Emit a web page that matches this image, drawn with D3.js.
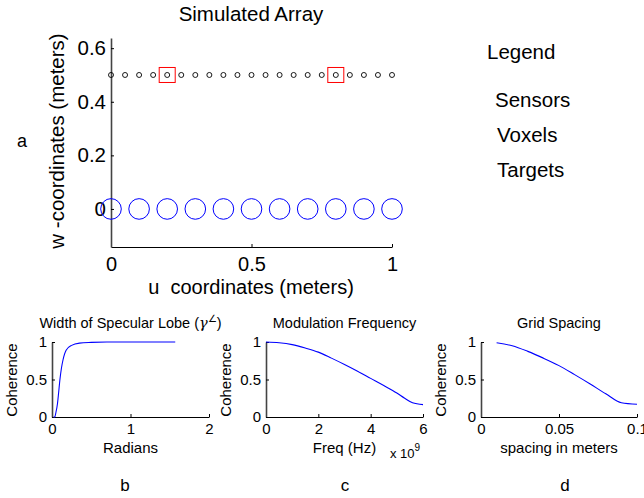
<!DOCTYPE html>
<html>
<head>
<meta charset="utf-8">
<script src="https://cdn.jsdelivr.net/npm/d3@7"></script>
<style>
  html, body { margin: 0; padding: 0; background: #fff; }
  svg { display: block; font-family: Arial, "Liberation Sans", sans-serif; }
  text { white-space: pre; }
</style>
</head>
<body>
<svg width="644" height="498"></svg>
<script>
// --- panel a: simulated array ---
var sensorU = [0, 0.05, 0.1, 0.15, 0.2, 0.25, 0.3, 0.35, 0.4, 0.45, 0.5, 0.55, 0.6, 0.65, 0.7, 0.75, 0.8, 0.85, 0.9, 0.95, 1];
var sensorW = 0.5;
var voxelU = [0, 0.1, 0.2, 0.3, 0.4, 0.5, 0.6, 0.7, 0.8, 0.9, 1];
var voxelW = 0;
var targetU = [0.2, 0.8];
var targetW = [0.5, 0.5];
var aTicksX = [0, 0.5, 1];
var aTicksY = [0, 0.2, 0.4, 0.6];
var legendItems = ['Sensors', 'Voxels', 'Targets'];

// --- panel b: width of specular lobe ---
var lobeRad = [0.02, 0.035, 0.05, 0.07, 0.085, 0.1, 0.12, 0.14, 0.18, 0.25, 0.35, 0.5, 0.7, 1.0, 1.3, 1.57];
var lobeCoh = [0, 0, 0.06, 0.18, 0.33, 0.49, 0.65, 0.76, 0.89, 0.955, 0.985, 0.995, 1, 1, 1, 1];

// --- panel c: modulation frequency (x 10^9 Hz) ---
var freq = [0, 0.5, 1, 1.5, 2, 2.5, 3, 3.5, 4, 4.5, 5, 5.3, 5.6, 6];
var freqCoh = [1, 0.99, 0.965, 0.92, 0.865, 0.785, 0.70, 0.61, 0.515, 0.42, 0.32, 0.25, 0.19, 0.165];

// --- panel d: grid spacing ---
var spacing = [0.01, 0.02, 0.03, 0.04, 0.05, 0.06, 0.07, 0.08, 0.09, 0.1];
var spacingCoh = [0.99, 0.95, 0.875, 0.785, 0.685, 0.565, 0.44, 0.31, 0.19, 0.17];

var cohTicks = [0, 0.5, 1];

var svg = d3.select('svg');

function styleAxis(g, leftSide) {
    g.select('.domain').attr('stroke', leftSide ? '#444' : '#000').attr('stroke-width', leftSide ? 1.6 : 1);
    g.selectAll('.tick line').attr('stroke', '#000');
    g.selectAll('.tick text').attr('fill', '#000');
}

// ================= panel a =================
var ax = d3.scaleLinear().domain([0, 1]).range([111, 392]);
var ay = d3.scaleLinear().domain([-0.142, 0.638]).range([247, 38]);

var gxA = svg.append('g')
    .attr('transform', 'translate(0,247)')
    .call(d3.axisBottom(ax).tickValues(aTicksX).tickFormat(d3.format('')).tickSize(-3).tickSizeOuter(0).tickPadding(10))
    .attr('font-size', 20).attr('font-family', null);
styleAxis(gxA, false);

var gyA = svg.append('g')
    .attr('transform', 'translate(111,0)')
    .call(d3.axisLeft(ay).tickValues(aTicksY).tickFormat(d3.format('')).tickSize(-3).tickSizeOuter(0).tickPadding(5))
    .attr('font-size', 20.5).attr('font-family', null);
styleAxis(gyA, true);

svg.selectAll('circle.voxel')
    .data(voxelU)
    .enter().append('circle')
    .attr('class', 'voxel')
    .attr('cx', function (d) { return ax(d); })
    .attr('cy', ay(voxelW))
    .attr('r', 10.3)
    .attr('fill', 'none')
    .attr('stroke', '#0000ff')
    .attr('stroke-width', 1);

svg.selectAll('circle.sensor')
    .data(sensorU)
    .enter().append('circle')
    .attr('class', 'sensor')
    .attr('cx', function (d) { return ax(d); })
    .attr('cy', ay(sensorW))
    .attr('r', 2.5)
    .attr('fill', 'none')
    .attr('stroke', '#000')
    .attr('stroke-width', 0.9);

svg.selectAll('rect.target')
    .data(targetU)
    .enter().append('rect')
    .attr('class', 'target')
    .attr('x', function (d) { return ax(d) - 8; })
    .attr('y', function (d, i) { return ay(targetW[i]) - 7.5; })
    .attr('width', 16)
    .attr('height', 15)
    .attr('fill', 'none')
    .attr('stroke', '#ff0000')
    .attr('stroke-width', 1);

svg.append('text').attr('x', 251).attr('y', 21).attr('text-anchor', 'middle')
    .attr('font-size', 20.5).text('Simulated Array');
svg.append('text').attr('x', 251).attr('y', 294).attr('text-anchor', 'middle')
    .attr('font-size', 20).text('u  coordinates (meters)');
svg.append('text').attr('transform', 'translate(64,141) rotate(-90)').attr('text-anchor', 'middle')
    .attr('font-size', 20.5).text('w -coordinates (meters)');
svg.append('text').attr('x', 22).attr('y', 147).attr('text-anchor', 'middle')
    .attr('font-size', 18).text('a');

svg.append('text').attr('x', 487).attr('y', 59).attr('font-size', 20.5).text('Legend');
svg.selectAll('text.legend')
    .data(legendItems)
    .enter().append('text')
    .attr('class', 'legend')
    .attr('x', function (d, i) { return i === 0 ? 495 : 497; })
    .attr('y', function (d, i) { return 107 + i * 35; })
    .attr('font-size', 20.5)
    .text(function (d) { return d; });

// ================= small panels =================
var y0 = 417, y1 = 342;

function smallPanel(opt) {
    var x = d3.scaleLinear().domain(opt.domain).range([opt.left, opt.right]);
    var y = d3.scaleLinear().domain([0, 1]).range([y0, y1]);

    var gx = svg.append('g')
        .attr('transform', 'translate(0,' + y0 + ')')
        .call(d3.axisBottom(x).tickValues(opt.ticks).tickFormat(d3.format('')).tickSize(-3).tickSizeOuter(0).tickPadding(6))
        .attr('font-size', 15).attr('font-family', null);
    styleAxis(gx, false);

    var gy = svg.append('g')
        .attr('transform', 'translate(' + opt.left + ',0)')
        .call(d3.axisLeft(y).tickValues(cohTicks).tickFormat(d3.format('')).tickSize(-3).tickSizeOuter(0).tickPadding(5))
        .attr('font-size', 15).attr('font-family', null);
    styleAxis(gy, true);

    var line = d3.line()
        .x(function (d) { return x(d[0]); })
        .y(function (d) { return y(d[1]); })
        .curve(opt.curve);

    svg.append('path')
        .datum(d3.zip(opt.xs, opt.ys))
        .attr('d', line)
        .attr('fill', 'none')
        .attr('stroke', '#0000ff')
        .attr('stroke-width', 1.1);

    var cx = (opt.left + opt.right) / 2;
    var t = svg.append('text').attr('x', cx).attr('y', 328).attr('text-anchor', 'middle')
        .attr('font-size', 14.5).text(opt.title);
    if (opt.titleExtra) opt.titleExtra(t);

    svg.append('text').attr('x', cx).attr('y', 453).attr('text-anchor', 'middle')
        .attr('font-size', 15).text(opt.xlabel);
    svg.append('text').attr('transform', 'translate(' + (opt.left - 35) + ',380) rotate(-90)')
        .attr('text-anchor', 'middle').attr('font-size', 15).text('Coherence');
    svg.append('text').attr('x', opt.letterX).attr('y', 491).attr('text-anchor', 'middle')
        .attr('font-size', 17).text(opt.letter);
    return x;
}

smallPanel({
    left: 52, right: 209, domain: [0, 2], ticks: [0, 1, 2],
    xs: lobeRad, ys: lobeCoh, curve: d3.curveMonotoneX,
    title: 'Width of Specular Lobe (',
    titleExtra: function (t) {
        t.append('tspan').attr('font-family', 'DejaVu Serif, serif').attr('font-style', 'italic').text('γ');
        t.append('tspan').attr('font-size', 10).attr('dy', -6).text('∠');
        t.append('tspan').attr('dy', 6).text(')');
    },
    xlabel: 'Radians', letter: 'b', letterX: 125
});

smallPanel({
    left: 266, right: 423, domain: [0, 6], ticks: [0, 2, 4, 6],
    xs: freq, ys: freqCoh, curve: d3.curveMonotoneX,
    title: 'Modulation Frequency', xlabel: 'Freq (Hz)', letter: 'c', letterX: 345
});

var expo = svg.append('text').attr('x', 390).attr('y', 458).attr('font-size', 13).text('x 10');
expo.append('tspan').attr('dy', -7).attr('font-size', 10).text('9');

smallPanel({
    left: 481, right: 637, domain: [0, 0.1], ticks: [0, 0.05, 0.1],
    xs: spacing, ys: spacingCoh, curve: d3.curveMonotoneX,
    title: 'Grid Spacing', xlabel: 'spacing in meters', letter: 'd', letterX: 565
});
</script>
</body>
</html>
